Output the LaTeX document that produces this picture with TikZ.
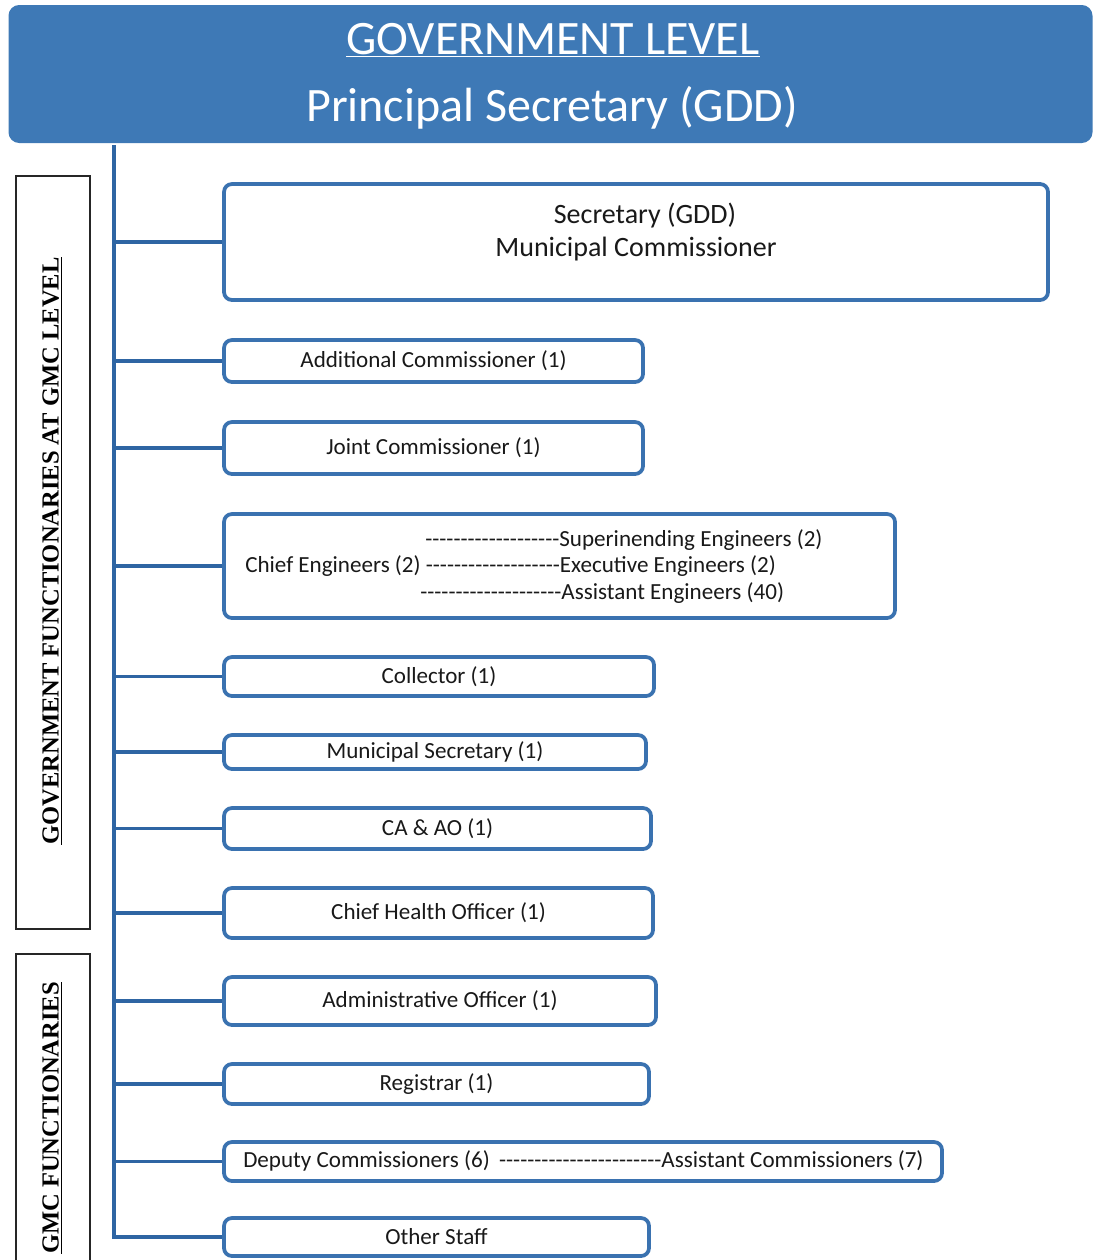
\documentclass[tikz,border=0pt]{standalone}
\usepackage{fontspec}
\setmainfont{Carlito}[Ligatures=TeXOff]
\newfontfamily\lblfont{Liberation Serif}
\definecolor{bannerblue}{RGB}{62,121,182}
\definecolor{boxblue}{RGB}{58,114,176}
\definecolor{lineblue}{RGB}{46,101,163}
\newcommand\fsz[2]{\fontsize{#1}{#2}\selectfont}
\tikzset{
  box/.style={draw=boxblue, line width=2.8pt, rounded corners=6pt, fill=white, inner sep=0pt, text=black!90, font=\fsz{17.3}{20}},
  conn/.style={draw=lineblue, line width=2.9pt},
  txt/.style={inner sep=0pt, font=\fsz{17.3}{20}, text=black!90},
  lblbox/.style={draw=black!85, line width=1.1pt, inner sep=0pt, minimum width=55.5pt},
  lbltxt/.style={inner sep=0pt, rotate=90, font=\lblfont\bfseries\fontsize{18.4}{20}\selectfont},
}
\begin{document}
\begin{tikzpicture}[x=0.75pt,y=-0.75pt]
\useasboundingbox (0,0) rectangle (1093,1260);
% banner
\node[fill=bannerblue, rounded corners=8pt, minimum width=813pt, minimum height=103.5pt, inner sep=0pt] (gov) at (550.5,74) {};
\node[inner sep=0pt, text=white, font=\fsz{36}{42}] (govt) at (553,40) {\underline{GOVERNMENT LEVEL}};
\node[inner sep=0pt, text=white, font=\fsz{36}{42}] (ps) at (552,108) {Principal Secretary (GDD)};
% left labels
\node[lblbox, minimum height=564.75pt] (l1) at (53,552.5) {};
\node[lbltxt] at (52,551) {\underline{GOVERNMENT FUNCTIONARIES AT GMC LEVEL}};
\node[lblbox, minimum height=252pt] (l2) at (53,1122) {};
\node[lbltxt] at (52,1118) {\underline{GMC FUNCTIONARIES}};
% boxes
\node[box, minimum width=618pt, minimum height=87pt] (sec) at (636,242) {};
\node[txt, font=\fsz{21}{25}] at (645,216) {Secretary (GDD)};
\node[txt, font=\fsz{21}{25}] at (636,249) {Municipal Commissioner};
\node[box, minimum width=314.25pt, minimum height=31.5pt] (addl) at (433.5,361) {Additional Commissioner (1)};
\node[box, minimum width=314.25pt, minimum height=39pt] (joint) at (433.5,448) {Joint Commissioner (1)};
\node[box, minimum width=503.25pt, minimum height=78pt] (chief) at (559.5,566) {};
\node[txt, anchor=west] at (425,540) {-------------------Superinending Engineers (2)};
\node[txt, anchor=west] at (245,566) {Chief Engineers (2) -------------------Executive Engineers (2)};
\node[txt, anchor=west] at (420,593) {--------------------Assistant Engineers (40)};
\node[box, minimum width=322.5pt, minimum height=29.25pt] (coll) at (439,676.5) {Collector (1)};
\node[box, minimum width=316.5pt, minimum height=25.5pt] (munsec) at (435,752) {Municipal Secretary (1)};
\node[box, minimum width=320.25pt, minimum height=30.75pt] (caao) at (437.5,828.5) {CA \& AO (1)};
\node[box, minimum width=321.75pt, minimum height=37.5pt] (cho) at (438.5,913) {Chief Health Officer (1)};
\node[box, minimum width=324pt, minimum height=36pt] (admin) at (440,1001) {Administrative Officer (1)};
\node[box, minimum width=318.75pt, minimum height=30pt] (reg) at (436.5,1084) {Registrar (1)};
\node[box, minimum width=538.5pt, minimum height=29.25pt] (dep) at (583,1161.5) {};
\node[txt, anchor=west] at (243,1161) {Deputy Commissioners (6)\hspace{7pt}-----------------------Assistant Commissioners (7)};
\node[box, minimum width=318.75pt, minimum height=28.5pt] (other) at (436.5,1237) {Other Staff};
% connectors
\coordinate (vtop) at (114,145);
\coordinate (vbot) at (114,1237);
\draw[conn] (vtop) -- (vbot) -- (other.west);
\foreach \n in {sec,addl,joint,chief,coll,munsec,caao,cho,admin,reg,dep}
  \draw[conn] (\n.west -| vtop) -- (\n.west);
\end{tikzpicture}
\end{document}
